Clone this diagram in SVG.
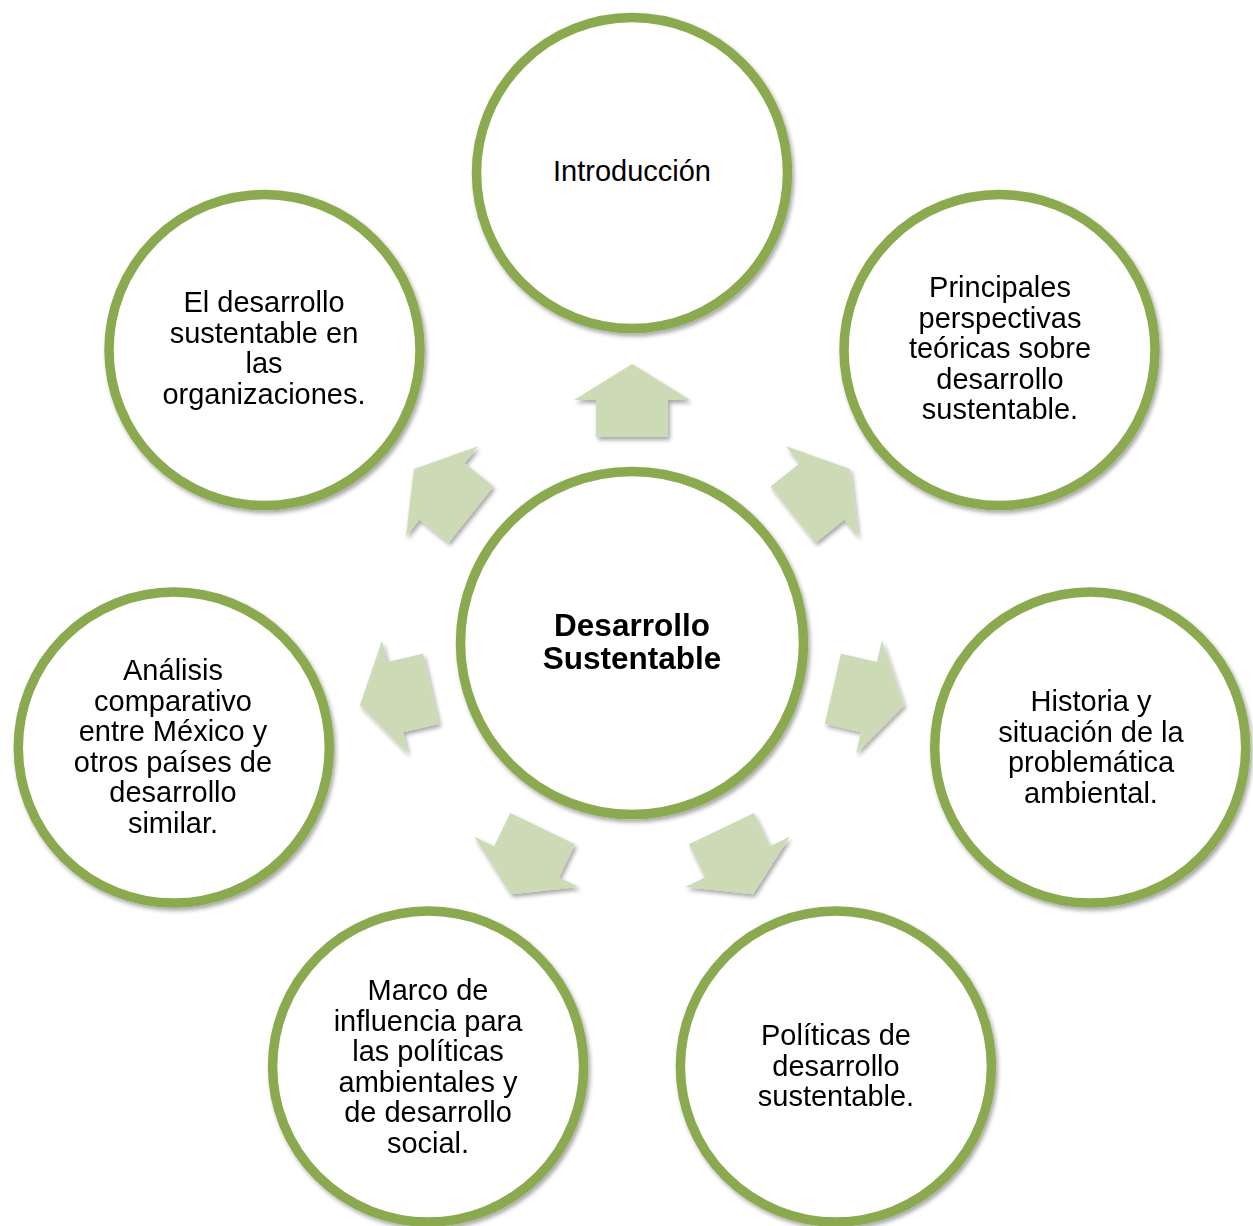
<svg xmlns="http://www.w3.org/2000/svg" width="1253" height="1226" viewBox="0 0 1253 1226">
<style>
.ring{fill:#FFFFFF;stroke:#8BAA4F;stroke-width:9.5}
.arrow{fill:#CCDAB5}
.t{font-family:"Liberation Sans",Arial,sans-serif;font-size:29px;fill:#000;text-anchor:middle}
.tb{font-family:"Liberation Sans",Arial,sans-serif;font-size:31.5px;font-weight:bold;fill:#000;text-anchor:middle}
</style>
<defs>
<filter id="sh" x="-20%" y="-20%" width="140%" height="140%">
<feDropShadow dx="2" dy="3" stdDeviation="2.2" flood-color="#000" flood-opacity="0.35"/>
</filter>
<path id="arr" d="M0,-37 L58,-1 L36,-1 L36,36 L-36,36 L-36,-1 L-58,-1 Z"/>
</defs>
<rect width="1253" height="1226" fill="#FFFFFF"/>
<g id="connectors" filter="url(#sh)" class="arrow">
<use href="#arr" transform="translate(632,401)"/>
<use href="#arr" transform="translate(821.2,492.1) rotate(51.43)"/>
<use href="#arr" transform="translate(868,696.8) rotate(102.86)"/>
<use href="#arr" transform="translate(737,861) rotate(154.29)"/>
<use href="#arr" transform="translate(527,861) rotate(205.71)"/>
<use href="#arr" transform="translate(396,696.8) rotate(257.14)"/>
<use href="#arr" transform="translate(442.8,492.1) rotate(308.57)"/>
</g>
<g id="center">
<circle class="ring" cx="632" cy="643" r="171.5" filter="url(#sh)"/>
<text class="tb" x="632" y="636">Desarrollo</text>
<text class="tb" x="632" y="669">Sustentable</text>
</g>
<g id="n1">
<circle class="ring" cx="632" cy="173" r="155.5" filter="url(#sh)"/>
<text class="t" x="632" y="181">Introducción</text>
</g>
<g id="n2">
<circle class="ring" cx="999.5" cy="350" r="155.5" filter="url(#sh)"/>
<text class="t" x="1000" y="297">Principales</text>
<text class="t" x="1000" y="327.5">perspectivas</text>
<text class="t" x="1000" y="358">teóricas sobre</text>
<text class="t" x="1000" y="388.5">desarrollo</text>
<text class="t" x="1000" y="419">sustentable.</text>
</g>
<g id="n3">
<circle class="ring" cx="1090.2" cy="747.6" r="155.5" filter="url(#sh)"/>
<text class="t" x="1091" y="711">Historia y</text>
<text class="t" x="1091" y="741.5">situación de la</text>
<text class="t" x="1091" y="772">problemática</text>
<text class="t" x="1091" y="802.5">ambiental.</text>
</g>
<g id="n4">
<circle class="ring" cx="835.9" cy="1066.5" r="155.5" filter="url(#sh)"/>
<text class="t" x="836" y="1045">Políticas de</text>
<text class="t" x="836" y="1075.5">desarrollo</text>
<text class="t" x="836" y="1106">sustentable.</text>
</g>
<g id="n5">
<circle class="ring" cx="428.1" cy="1066.5" r="155.5" filter="url(#sh)"/>
<text class="t" x="428" y="1000">Marco de</text>
<text class="t" x="428" y="1030.5">influencia para</text>
<text class="t" x="428" y="1061">las políticas</text>
<text class="t" x="428" y="1091.5">ambientales y</text>
<text class="t" x="428" y="1122">de desarrollo</text>
<text class="t" x="428" y="1152.5">social.</text>
</g>
<g id="n6">
<circle class="ring" cx="173.8" cy="747.6" r="155.5" filter="url(#sh)"/>
<text class="t" x="173" y="680">Análisis</text>
<text class="t" x="173" y="710.5">comparativo</text>
<text class="t" x="173" y="741">entre México y</text>
<text class="t" x="173" y="771.5">otros países de</text>
<text class="t" x="173" y="802">desarrollo</text>
<text class="t" x="173" y="832.5">similar.</text>
</g>
<g id="n7">
<circle class="ring" cx="264.5" cy="350" r="155.5" filter="url(#sh)"/>
<text class="t" x="264" y="312">El desarrollo</text>
<text class="t" x="264" y="342.5">sustentable en</text>
<text class="t" x="264" y="373">las</text>
<text class="t" x="264" y="403.5">organizaciones.</text>
</g>
</svg>
